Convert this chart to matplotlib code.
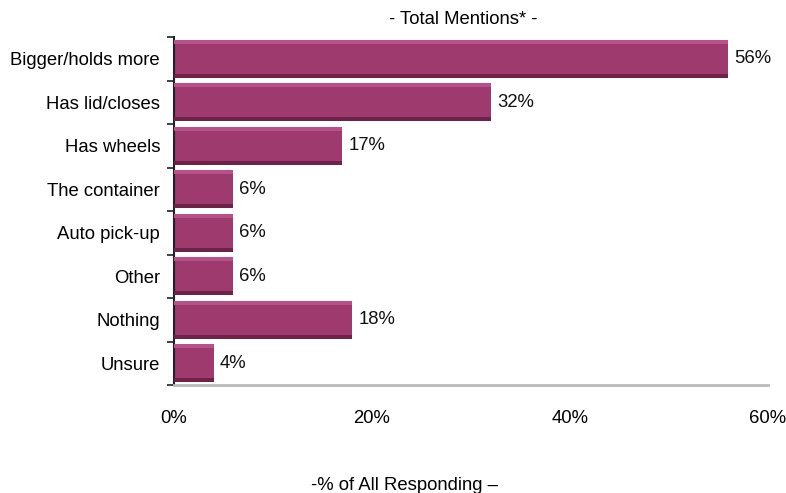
import matplotlib.pyplot as plt
import numpy as np
from matplotlib.ticker import FuncFormatter, FixedLocator

plt.rcParams['font.family'] = ['Liberation Sans', 'DejaVu Sans']

# ==========================================
# DADOS
# ==========================================
categorias = ["Bigger/holds more", "Has lid/closes", "Has wheels", "The container",
              "Auto pick-up", "Other", "Nothing", "Unsure"]
valores = [56, 32, 17, 6, 6, 6, 18, 4]
titulo = "- Total Mentions* -"
rotulo_x = "-% of All Responding \u2013"

COR_BARRA = "#9e3a6e"
COR_TOPO = "#b8508a"
COR_BASE = "#6e2248"
FS = 13.3

fig = plt.figure(figsize=(7.86, 4.93), dpi=100)
ax = fig.add_axes([174 / 786, 1 - 385 / 493, (768 - 174) / 786, (385 - 37) / 493])

y = np.arange(len(categorias))
altura = 0.88

# barra principal + faixas de brilho/sombra
ax.barh(y, valores, height=altura, color=COR_BARRA, edgecolor="none", zorder=2)
ax.barh(y - altura / 2 + 0.05, valores, height=0.1, color=COR_TOPO, edgecolor="none", zorder=3)
ax.barh(y + altura / 2 - 0.05, valores, height=0.1, color=COR_BASE, edgecolor="none", zorder=3)

for yi, v in zip(y, valores):
    ax.text(v + 0.6, yi, f"{v}%", va="center", ha="left", fontsize=FS, color="#111111")

ax.set_xlim(0, 60)
ax.set_ylim(len(categorias) - 0.5, -0.5)

ax.set_yticks(y)
ax.set_yticklabels(categorias, fontsize=FS)
ax.tick_params(axis="y", which="major", length=0, pad=10)
ax.yaxis.set_minor_locator(FixedLocator(np.arange(-0.5, len(categorias), 1.0)))
ax.tick_params(axis="y", which="minor", length=5, width=1.2, color="#222222")

ax.set_xticks([0, 20, 40, 60])
ax.xaxis.set_major_formatter(FuncFormatter(lambda v, p: f"{v:.0f}%"))
ax.tick_params(axis="x", length=0, pad=18, labelsize=FS)

for lado in ["top", "right"]:
    ax.spines[lado].set_visible(False)
ax.spines["left"].set_color("#222222")
ax.spines["left"].set_linewidth(1.5)
ax.spines["bottom"].set_color("#bbbbbb")
ax.spines["bottom"].set_linewidth(2)

fig.text(463 / 786, 1 - 19 / 493, titulo, ha="center", va="center", fontsize=FS)
fig.text(404 / 786, 1 - 490 / 493, rotulo_x, ha="center", va="baseline", fontsize=FS)

fig.savefig("out.png", dpi=100)
